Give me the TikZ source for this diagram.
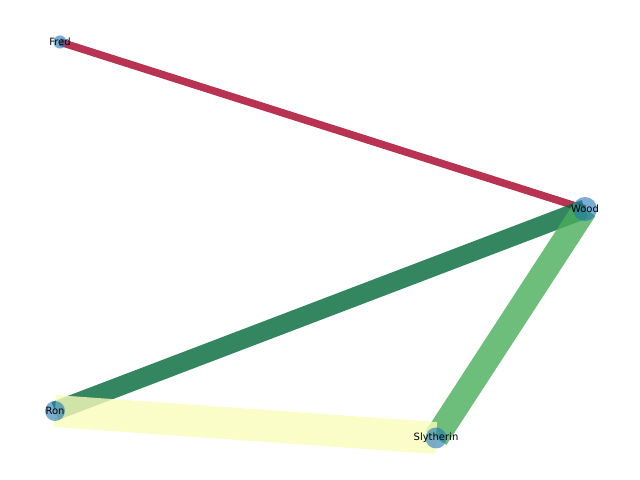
\documentclass[tikz,border=0pt]{standalone}
\usepackage{fontspec}
\setmainfont{DejaVu Sans}
\usepackage{tikz}
\usetikzlibrary{backgrounds}
\definecolor{nodeblue}{RGB}{31,120,180}
\definecolor{edgered}{RGB}{165,0,38}
\definecolor{edgedarkgreen}{RGB}{0,104,55}
\definecolor{edgegreen}{RGB}{71,174,89}
\definecolor{edgeyellow}{RGB}{249,252,186}
\tikzstyle{vertex}=[circle,fill=nodeblue,fill opacity=0.6,draw=none,inner sep=0pt]
\tikzstyle{vertexlabel}=[font=\fontsize{7.2}{8}\selectfont,inner sep=0pt]
\tikzstyle{edge} = [draw,opacity=0.8,line cap=butt]

\begin{document}
\begin{tikzpicture}[x=0.72pt,y=-0.72pt]
    \useasboundingbox (0,0) rectangle (640,480);

    \foreach \pos/\name/\size in {{(60,42)/Fred/9.4pt}, {(585,209)/Wood/17.3pt}, {(55,411)/Ron/14.4pt}, {(436,438)/Slytherin/15.1pt}}
        \node[vertex,minimum size=\size] (\name) at \pos {};

    \foreach \name in {Fred,Wood,Ron,Slytherin}
        \node[vertexlabel] (\name-label) at (\name) {\name};

    \begin{pgfonlayer}{background}
    \foreach \source/\dest/\colour/\width in {Fred/Wood/edgered/5.4pt, Wood/Ron/edgedarkgreen/13.7pt, Wood/Slytherin/edgegreen/18pt, Ron/Slytherin/edgeyellow/23pt}
        \path[edge,draw=\colour,line width=\width] (\source.center) -- (\dest.center);
    \end{pgfonlayer}

\end{tikzpicture}
\end{document}
